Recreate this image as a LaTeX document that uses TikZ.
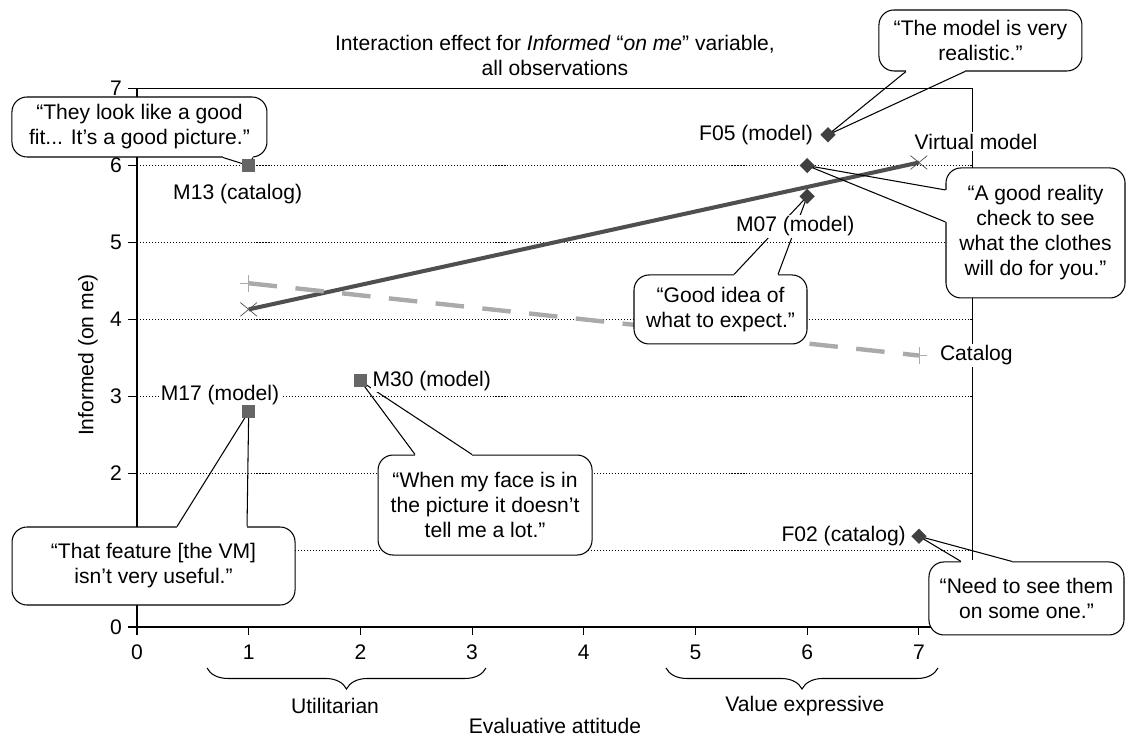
\documentclass[tikz,border=0pt]{standalone}
\usepackage{fontspec}
\setmainfont{Liberation Sans}
\usetikzlibrary{calc,positioning,shapes.geometric,shapes.misc,decorations.pathreplacing}
\definecolor{vmgray}{HTML}{4F4F4F}
\definecolor{catgray}{HTML}{AAAAAA}
\definecolor{dmdgray}{HTML}{404040}
\definecolor{sqgray}{HTML}{666666}
\tikzset{
  dmd/.style={
    shape = diamond,
    fill = dmdgray,
    inner sep = 0,
    minimum size = 0.31cm
  },
  sqr/.style={
    shape = rectangle,
    fill = sqgray,
    inner sep = 0,
    minimum size = 0.26cm
  },
  vmark/.style={
    shape = cross out,
    draw = vmgray,
    inner sep = 0,
    minimum width = 0.32cm,
    minimum height = 0.26cm
  },
  cmark/.style={
    shape = cross out,
    draw = catgray,
    inner sep = 0,
    minimum size = 0.22cm,
    rotate = 45
  },
}
\tikzset{
  bubble/.style={
    draw,
    fill = white,
    line width = 0.6pt,
    rounded corners = 0.3cm,
    align = center,
    inner sep = 0
  },
  ptlab/.style={
    fill = white,
    inner sep = 1pt
  },
  gridln/.style={
    line width = 0.5pt,
    dash pattern = on 0.6pt off 1.1pt
  },
  axisln/.style={
    line width = 0.6pt
  },
  erase/.style={
    draw = white,
    line width = 1.6pt
  },
  pointer/.style={
    line width = 0.6pt,
    line join = miter
  },
  vmline/.style={
    draw = vmgray,
    line width = 2.3pt
  },
  catline/.style={
    draw = catgray,
    line width = 2.5pt,
    dash pattern = on 0.57cm off 0.37cm
  },
  underbrace/.style={
    decorate,
    decoration = {brace, mirror, amplitude = 0.42cm},
    line width = 0.6pt
  },
}

\begin{document}
\begin{tikzpicture}[x=2.234cm, y=1.538cm, font=\fontsize{12pt}{14.2pt}\selectfont]
  \useasboundingbox (-1.2265,-1.4434) rectangle (8.8630,8.1534);

  % data points
  \coordinate (m13) at (1,6);
  \coordinate (f05) at (6.186,6.40);
  \coordinate (chk) at (6,6);
  \coordinate (m07) at (6,5.6);
  \coordinate (m17) at (1,2.8);
  \coordinate (m30) at (2,3.2);
  \coordinate (f02) at (7,1.18);
  \coordinate (vm1) at (1,4.13);
  \coordinate (vm7) at (7,6.04);
  \coordinate (cat1) at (1,4.47);
  \coordinate (cat7) at (7,3.53);

  % grid and axes
  \foreach \y in {1,...,6}
    \draw[gridln] (0,\y) -- (7.484,\y);
  \draw[axisln] (0,7) -- (0,0) -- (7.484,0);
  \draw[axisln] (0,7) -- (7.484,7) -- (7.484,0);
  \foreach \y in {0,...,7}
    \draw[axisln] (0,\y) -- (-0.08,\y);
  \foreach \y in {0,2,3,4,5,6,7}
    \node[anchor=east] (yt\y) at (-0.08,\y) {\y};
  \foreach \x in {0,...,7} {
    \draw[axisln] (\x,0) -- (\x,-0.104);
    \node (xt\x) at (\x,-0.33) {\x};
  }

  \node[align=center] (title) at (3.742,7.438)
    {Interaction effect for \textit{Informed} “\textit{on me}” variable,\\all observations};
  \node[rotate=90] (ylab) at (-0.439,3.537) {Informed (on me)};

  \coordinate (ut-l) at (0.627,-0.533);
  \coordinate (ut-r) at (3.124,-0.533);
  \coordinate (ve-l) at (4.736,-0.533);
  \coordinate (ve-r) at (7.171,-0.533);
  \draw[underbrace] (ut-l) -- (ut-r);
  \draw[underbrace] (ve-l) -- (ve-r);
  \node (utlab) at (1.773,-1.027) {Utilitarian};
  \node (velab) at (5.98,-1.027) {Value expressive};
  \node (xlab) at (3.742,-1.285) {Evaluative attitude};

  % the two series
  \draw[vmline] (vm1) -- (vm7);
  \draw[catline] (cat1) -- (cat7);
  \node[vmark] (vm1-mk) at (vm1) {};
  \node[vmark] (vm7-mk) at (vm7) {};
  \node[cmark] (cat1-mk) at (cat1) {};
  \node[cmark] (cat7-mk) at (cat7) {};
  \node[ptlab] (lvm) at (7.511,6.31) {Virtual model};
  \node[ptlab, right=0.38cm of cat7] (lcat) {Catalog};

  % quotes
  \node[bubble, minimum width=5.1cm, minimum height=1.2cm] (cfit) at (0.022,6.502)
    {“They look like a good\\fit... It’s a good picture.”};
  \node[bubble, minimum width=4.06cm, minimum height=1.22cm] (creal) at (7.551,7.627)
    {“The model is very\\realistic.”};
  \node[bubble, minimum width=3.58cm, minimum height=2.6cm] (ccheck) at (8.044,5.124)
    {“A good reality\\check to see\\what the clothes\\will do for you.”};
  \node[bubble, minimum width=3.46cm, minimum height=1.38cm] (cidea) at (5.224,4.129)
    {“Good idea of\\what to expect.”};
  \node[bubble, minimum width=5.66cm, minimum height=1.56cm] (cuse) at (0.148,0.793)
    {“That feature [the VM]\\isn’t very useful.”};
  \node[bubble, minimum width=4.28cm, minimum height=2.0cm] (cface) at (3.116,1.586)
    {“When my face is in\\the picture it doesn’t\\tell me a lot.”};
  \node[bubble, minimum width=3.9cm, minimum height=1.46cm] (cneed) at (7.963,0.371)
    {“Need to see them\\on some one.”};

  \coordinate (cfit-a) at ($(cfit.south)+(1.67cm,0)$);
  \coordinate (cfit-b) at ($(cfit.south)+(2.27cm,0)$);
  \coordinate (creal-a) at ($(creal.south)+(-1.49cm,0)$);
  \coordinate (creal-b) at ($(creal.south)+(-0.31cm,0)$);
  \coordinate (ccheck-a) at ($(ccheck.west)+(0,0.86cm)$);
  \coordinate (ccheck-b) at ($(ccheck.west)+(0,0.22cm)$);
  \coordinate (cidea-a) at ($(cidea.north)+(0.27cm,0)$);
  \coordinate (cidea-b) at ($(cidea.north)+(1.15cm,0)$);
  \coordinate (cuse-a) at ($(cuse.north)+(0.47cm,0)$);
  \coordinate (cuse-b) at ($(cuse.north)+(1.87cm,0)$);
  \coordinate (cface-a) at ($(cface.north)+(-1.4cm,0)$);
  \coordinate (cface-b) at ($(cface.north)+(-0.26cm,0)$);
  \coordinate (cneed-a) at ($(cneed.north)+(-1.31cm,0)$);
  \coordinate (cneed-b) at ($(cneed.north)+(-0.29cm,0)$);

  \foreach \c/\p in {cfit/m13,creal/f05,ccheck/chk,cidea/m07,cuse/m17,cface/m30,cneed/f02} {
    \draw[erase] (\c-a) -- (\c-b);
    \draw[pointer] (\c-a) -- (\p) -- (\c-b);
  }

  % point labels
  \node[ptlab, left=0.26cm of f05] (lf05) {F05 (model)};
  \node[ptlab, below=0.36cm of m07, xshift=-0.24cm] (lm07) {M07 (model)};
  \node[ptlab, below=0.34cm of m13, xshift=-0.22cm] (lm13) {M13 (catalog)};
  \node[ptlab] (lm17) at (0.743,3.02) {M17 (model)};
  \node[ptlab, right=0.2cm of m30] (lm30) {M30 (model)};
  \node[ptlab, left=0.22cm of f02] (lf02) {F02 (catalog)};

  % markers
  \node[dmd] (f05-mk) at (f05) {};
  \node[dmd] (chk-mk) at (chk) {};
  \node[dmd] (m07-mk) at (m07) {};
  \node[dmd] (f02-mk) at (f02) {};
  \node[sqr] (m13-mk) at (m13) {};
  \node[sqr] (m17-mk) at (m17) {};
  \node[sqr] (m30-mk) at (m30) {};
\end{tikzpicture}
\end{document}
